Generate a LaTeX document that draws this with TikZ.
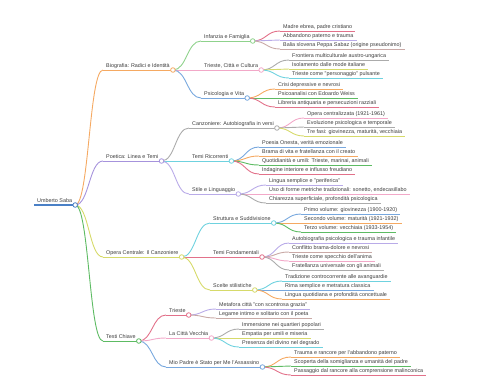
\documentclass[tikz,border=0pt]{standalone}
\usepackage{fontspec}
\setmainfont{Liberation Sans}
\usepackage{tikz}
\usetikzlibrary{calc}
\definecolor{TestoGrigio}{RGB}{60,60,60}
\definecolor{cRoot}{HTML}{4A80C6}
\definecolor{cOrange}{HTML}{F5A962}
\definecolor{cPurple}{HTML}{A693DC}
\definecolor{cYellow}{HTML}{D6DA6A}
\definecolor{cGreen}{HTML}{5DBB63}
\definecolor{cLgreen}{HTML}{8FD28C}
\definecolor{cPink}{HTML}{F2A8C8}
\definecolor{cBlue}{HTML}{78A8DE}
\definecolor{cGray}{HTML}{ABABAB}
\definecolor{cCyan}{HTML}{6FD2DF}
\definecolor{cRed}{HTML}{E2718A}
\definecolor{cLilac}{HTML}{B9ABE8}
\definecolor{cBrown}{HTML}{C9A9A6}

\tikzset{
  mmtext/.style={anchor=south west, inner xsep=3pt, inner ysep=1pt,
    text height=4pt, text depth=1.3pt, text=TestoGrigio,
    font=\fontsize{5.4}{6}\selectfont},
  mmline/.style={draw=#1, line width=0.9pt},
  mmdot/.style={draw=#1, fill=white, line width=0.8pt},
  mmlink/.style={to path={let \p1=(\tikztostart), \p2=(\tikztotarget) in
    .. controls ({(\x1+\x2)/2},\y1) and ({(\x1+\x2)/2},\y2) .. (\tikztotarget)}}
}
% name, parent, x, y, colour, text
\newcommand\mmramo[6]{%
  \node[mmtext] (#1) at (#3,#4) {#6};
  \draw[mmline=#5] (#2.south east) to[mmlink] (#1.south west);
  \draw[mmline=#5] (#1.south west) -- (#1.south east);
}

\begin{document}
\begin{tikzpicture}[x=1pt, y=-1pt]
    \useasboundingbox (0,0) rectangle (480,384);

    % radice
    \node[mmtext] (saba) at (34,205) {Umberto Saba};
    \draw[mmline=cRoot, line width=1.3pt] (saba.south west) -- (saba.south east);

    % primo livello
    \mmramo{bio}{saba}{103}{70}{cOrange}{Biografia: Radici e Identità}
    \mmramo{poe}{saba}{103}{161}{cPurple}{Poetica: Linea e Temi}
    \mmramo{ope}{saba}{103}{257}{cYellow}{Opera Centrale: Il Canzoniere}
    \mmramo{tes}{saba}{103}{341}{cGreen}{Testi Chiave}

    % biografia
    \mmramo{infa}{bio}{201}{41}{cLgreen}{Infanzia e Famiglia}
    \mmramo{trie}{bio}{201}{70}{cPink}{Trieste, Città e Cultura}
    \mmramo{psic}{bio}{201}{98}{cBlue}{Psicologia e Vita}
    \mmramo{infa1}{infa}{280}{31}{cRed}{Madre ebrea, padre cristiano}
    \mmramo{infa2}{infa}{280}{40}{cLilac}{Abbandono paterno e trauma}
    \mmramo{infa3}{infa}{280}{49}{cBrown}{Balia slovena Peppa Sabaz (origine pseudonimo)}
    \mmramo{trie1}{trie}{289}{60}{cGray}{Frontiera multiculturale austro-ungarica}
    \mmramo{trie2}{trie}{289}{69}{cYellow}{Isolamento dalle mode italiane}
    \mmramo{trie3}{trie}{289}{78}{cCyan}{Trieste come "personaggio" pulsante}
    \mmramo{psic1}{psic}{275}{89}{cOrange}{Crisi depressive e nevrosi}
    \mmramo{psic2}{psic}{275}{98}{cGreen}{Psicoanalisi con Edoardo Weiss}
    \mmramo{psic3}{psic}{275}{107}{cRed}{Libreria antiquaria e persecuzioni razziali}

    % poetica
    \mmramo{canz}{poe}{189}{128}{cGray}{Canzoniere: Autobiografia in versi}
    \mmramo{temr}{poe}{189}{161}{cCyan}{Temi Ricorrenti}
    \mmramo{stil}{poe}{189}{194}{cLilac}{Stile e Linguaggio}
    \mmramo{canz1}{canz}{304}{118}{cPink}{Opera centralizzata (1921-1961)}
    \mmramo{canz2}{canz}{304}{127}{cGray}{Evoluzione psicologica e temporale}
    \mmramo{canz3}{canz}{304}{136}{cYellow}{Tre fasi: giovinezza, maturità, vecchiaia}
    \mmramo{temr1}{temr}{259}{147}{cBlue}{Poesia Onesta, verità emozionale}
    \mmramo{temr2}{temr}{259}{156}{cOrange}{Brama di vita e fratellanza con il creato}
    \mmramo{temr3}{temr}{259}{165}{cGreen}{Quotidianità e umili: Trieste, marinai, animali}
    \mmramo{temr4}{temr}{259}{174}{cRed}{Indagine interiore e influsso freudiano}
    \mmramo{stil1}{stil}{266}{185}{cLilac}{Lingua semplice e "periferica"}
    \mmramo{stil2}{stil}{266}{194}{cPink}{Uso di forme metriche tradizionali: sonetto, endecasillabo}
    \mmramo{stil3}{stil}{266}{203}{cGray}{Chiarezza superficiale, profondità psicologica}

    % opera centrale
    \mmramo{stru}{ope}{210}{223}{cCyan}{Struttura e Suddivisione}
    \mmramo{temf}{ope}{210}{257}{cRed}{Temi Fondamentali}
    \mmramo{scel}{ope}{210}{290}{cYellow}{Scelte stilistiche}
    \mmramo{stru1}{stru}{301}{214}{cBlue}{Primo volume: giovinezza (1900-1920)}
    \mmramo{stru2}{stru}{301}{223}{cOrange}{Secondo volume: maturità (1921-1932)}
    \mmramo{stru3}{stru}{301}{232}{cGreen}{Terzo volume: vecchiaia (1933-1954)}
    \mmramo{temf1}{temf}{289}{243}{cLilac}{Autobiografia psicologica e trauma infantile}
    \mmramo{temf2}{temf}{289}{252}{cBrown}{Conflitto brama-dolore e nevrosi}
    \mmramo{temf3}{temf}{289}{261}{cPink}{Trieste come specchio dell'anima}
    \mmramo{temf4}{temf}{289}{270}{cGray}{Fratellanza universale con gli animali}
    \mmramo{scel1}{scel}{282}{281}{cCyan}{Tradizione controcorrente alle avanguardie}
    \mmramo{scel2}{scel}{282}{290}{cBlue}{Rima semplice e metratura classica}
    \mmramo{scel3}{scel}{282}{299}{cOrange}{Lingua quotidiana e profondità concettuale}

    % testi chiave
    \mmramo{tri}{tes}{166}{315}{cRed}{Trieste}
    \mmramo{citt}{tes}{166}{338}{cPink}{La Città Vecchia}
    \mmramo{padr}{tes}{166}{367}{cBlue}{Mio Padre è Stato per Me l'Assassino}
    \mmramo{tri1}{tri}{216}{309}{cLilac}{Metafora città "con scontrosa grazia"}
    \mmramo{tri2}{tri}{216}{318}{cBrown}{Legame intimo e solitario con il poeta}
    \mmramo{citt1}{citt}{239}{329}{cGray}{Immersione nei quartieri popolari}
    \mmramo{citt2}{citt}{239}{338}{cYellow}{Empatia per umili e miseria}
    \mmramo{citt3}{citt}{239}{347}{cCyan}{Presenza del divino nel degrado}
    \mmramo{padr1}{padr}{291}{357}{cOrange}{Trauma e rancore per l'abbandono paterno}
    \mmramo{padr2}{padr}{291}{366}{cGreen}{Scoperta della somiglianza e umanità del padre}
    \mmramo{padr3}{padr}{291}{375}{cRed}{Passaggio dal rancore alla comprensione malinconica}

    % cerchietti sopra i rami
    \foreach \n/\c in {saba/cRoot, bio/cOrange, poe/cPurple, ope/cYellow, tes/cGreen,
        infa/cLgreen, trie/cPink, psic/cBlue, canz/cGray, temr/cCyan, stil/cLilac,
        stru/cCyan, temf/cRed, scel/cYellow, tri/cRed, citt/cPink, padr/cBlue}
      \draw[mmdot=\c] (\n.south east) circle (2.3);
\end{tikzpicture}
\end{document}
